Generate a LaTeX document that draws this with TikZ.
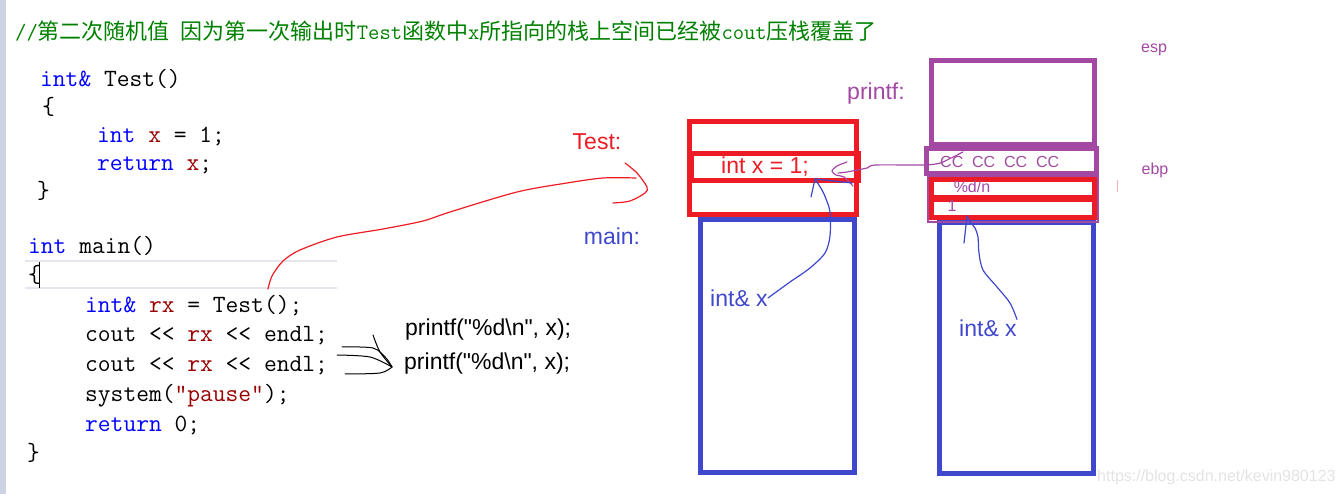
\documentclass[tikz,border=0pt]{standalone}
\usepackage{fontspec}
\newfontfamily\cjk{Noto Sans CJK SC}
\newfontfamily\labelfont{Liberation Sans}
\usepackage{tikz}
\definecolor{paintred}{HTML}{ED1C24}
\definecolor{paintblue}{HTML}{3F48CC}
\definecolor{paintpurple}{HTML}{A349A4}
\definecolor{kwblue}{HTML}{0000FF}
\definecolor{idred}{HTML}{990000}
\definecolor{notegreen}{HTML}{008000}
\definecolor{leftbar}{HTML}{CCD4E4}
\definecolor{linehl}{HTML}{E6E6EE}
\newcommand\codefont{\ttfamily\fontsize{24.8}{28}\selectfont}

\begin{document}
\begin{tikzpicture}[x=1pt, y=-1pt,
  frame/.style={draw, line width=5pt, inner sep=0pt},
  code/.style={anchor=base west, inner sep=0pt, font=\codefont},
  lbl/.style={inner sep=0pt, font=\labelfont\fontsize{23}{26}\selectfont},
  tiny/.style={inner sep=0pt, font=\labelfont\fontsize{16}{18}\selectfont},
  hand/.style={line width=1.2pt, line join=round, line cap=round}]
\useasboundingbox (0,0) rectangle (1342,494);
\fill[leftbar] (0,0) rectangle (6,494);
\node[anchor=base west, inner sep=0pt, text=notegreen, font=\fontsize{22}{26}\selectfont] (note) at (15,40)
  {{\ttfamily //}{\cjk 第二次随机值}\hspace{11pt}{\cjk 因为第一次输出时}{\ttfamily Test}{\cjk 函数中}{\ttfamily x}{\cjk 所指向的栈上空间已经被}{\ttfamily cout}{\cjk 压栈覆盖了}};
\node[code] (c1) at (40,87) {\textcolor{kwblue}{int\&} Test()};
\node[code] (c2) at (42,115) {\{};
\node[code] (c3) at (97,143) {\textcolor{kwblue}{int} \textcolor{idred}{x} = 1;};
\node[code] (c4) at (97,171) {\textcolor{kwblue}{return} \textcolor{idred}{x};};
\node[code] (c5) at (37,199) {\}};
\node[code] (c6) at (28,254) {\textcolor{kwblue}{int} main()};
\draw[linehl, line width=2pt] (25,261) -- (337,261) (25,288) -- (337,288);
\node[code] (c7) at (28,283) {\{};
\draw[line width=1pt] (39,262) -- (39,288);
\node[code] (c8) at (85,313) {\textcolor{kwblue}{int\&} \textcolor{idred}{rx} = Test();};
\node[code] (c9) at (85,342) {cout <{}< \textcolor{idred}{rx} <{}< endl;};
\node[code] (c10) at (85,372) {cout <{}< \textcolor{idred}{rx} <{}< endl;};
\node[code] (c11) at (85,401) {system(\textcolor{idred}{"pause"});};
\node[code] (c12) at (85,431) {\textcolor{kwblue}{return} 0;};
\node[code] (c13) at (27,460) {\}};
\node[lbl, anchor=west] (pf1) at (405,330) {printf("\%d\textbackslash n", x);};
\node[lbl, anchor=west] (pf2) at (404,364) {printf("\%d\textbackslash n", x);};
\node[frame, paintblue, minimum width=154, minimum height=253] (mainL) at (777.5,346) {};
\node[frame, paintblue, minimum width=154, minimum height=251] (mainR) at (1016.5,348) {};
\node[frame, paintred, minimum width=167, minimum height=93] (testframe) at (773,168) {};
\node[frame, paintred, minimum width=167, minimum height=27] (xslot) at (775,167) {};
\node[frame, paintpurple, minimum width=163, minimum height=84] (printfframe) at (1013,102.5) {};
\node[frame, paintpurple, minimum width=170, minimum height=25] (ccslot) at (1011.5,161) {};
\node[draw, paintpurple, line width=1.5pt, inner sep=0pt, minimum width=170, minimum height=46] (args) at (1013,199) {};
\node[frame, paintred, minimum width=163, minimum height=18] (fmtslot) at (1013,188.5) {};
\node[frame, paintred, minimum width=163, minimum height=18] (valslot) at (1013,208.5) {};
\draw[paintred!35, line width=1pt] (1117,180) -- (1117,192);
\node[lbl, text=paintred] (xdecl) at (765,167) {int x = 1;};
\node[lbl, text=paintred] (testlbl) at (597,142) {Test:};
\node[lbl, text=paintblue] (mainlbl) at (612,236) {main:};
\node[lbl, text=paintpurple] (printflbl) at (876,94) {printf:};
\node[lbl, text=paintblue] (refL) at (739,298) {int\& x};
\node[lbl, text=paintblue] (refR) at (988,328) {int\& x};
\node[tiny, text=paintpurple, anchor=west] (cc) at (940,162) {CC\ \ CC\ \ CC\ \ CC};
\node[tiny, text=paintpurple] (fmt) at (972,187) {\%d/n};
\node[tiny, text=paintpurple] (one) at (952,206) {1};
\node[tiny, text=paintpurple] (esp) at (1154,50) {esp};
\node[tiny, text=paintpurple] (ebp) at (1155,170) {ebp};
\node[anchor=base west, inner sep=0pt, text=gray!22, font=\labelfont\fontsize{16}{18}\selectfont] (mark) at (1097,481) {https://blog.csdn.net/kevin980123};
\coordinate (rxcall) at (268,289);
\coordinate (testtip) at (636,178);
\coordinate (ccmark) at (963,152);
\coordinate (purpletip) at (838,173);
\coordinate (xtip) at (815,179);
\coordinate (onetip) at (967,216);
\coordinate (pftip) at (392,367);
\draw[hand, paintred] plot[smooth, tension=0.5] coordinates {(rxcall) (272,276) (283,261) (300,250) (337,237) (383,229) (423,221) (450,212) (517,192) (567,183) (603,178) (testtip)};
\draw[hand, paintred] plot[smooth] coordinates {(625,163) (637,173) (647,187) (645,193) (630,201) (613,203)};
\draw[hand, paintpurple] plot[smooth, tension=0.4] coordinates {(ccmark) (943,162) (936,164) (923,165) (875,165) (867,168) (847,172) (purpletip)};
\draw[hand, paintpurple] plot[smooth] coordinates {(847,162) (837,166) (832,171) (836,175) (844,177) (853,186)};
\draw[hand, paintblue] plot[smooth] coordinates {(refL.east) (790,282) (810,268) (825,253) (830,236) (830,212) (826,199) (822,190) (xtip)};
\draw[hand, paintblue] plot coordinates {(811,197) (xtip) (852,183)};
\draw[hand, paintblue] plot[smooth] coordinates {(refR.north east) (1010,303) (997,287) (983,270) (979,253) (978,237) (975,228) (970,222) (onetip)};
\draw[hand, paintblue] (onetip) -- (964,243);
\draw[hand, line width=1pt] plot[smooth] coordinates {(373,335) (380,352) (pftip)};
\draw[hand, line width=1pt] plot[smooth] coordinates {(342,347) (373,348) (386,358) (pftip)};
\draw[hand, line width=1pt] plot[smooth] coordinates {(337,355) (370,357) (pftip)};
\draw[hand, line width=1pt] plot[smooth] coordinates {(345,374) (380,373) (pftip)};
\end{tikzpicture}
\end{document}
